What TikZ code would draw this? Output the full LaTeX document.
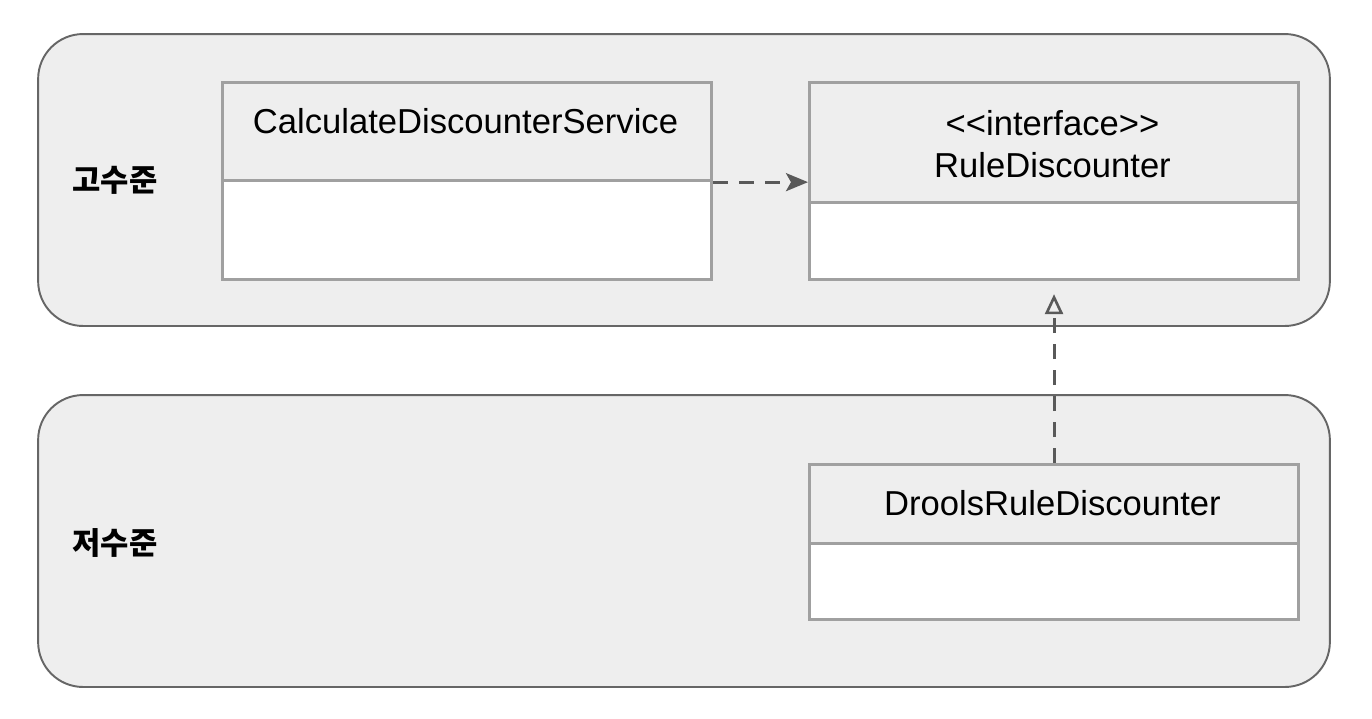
\documentclass[tikz,border=0pt]{standalone}
\usepackage{fontspec}
\setmainfont{Liberation Sans}
\newfontfamily\kofont{Noto Sans CJK KR}
\usetikzlibrary{arrows.meta}
\definecolor{panel}{HTML}{EEEEEE}
\definecolor{layerline}{HTML}{666666}
\definecolor{boxline}{HTML}{A0A0A0}
\definecolor{arrowline}{HTML}{595959}
\tikzset{
  layer/.style     = {shape=rectangle, rounded corners=0.9cm,
                      draw=layerline, fill=panel, line width=1.1pt,
                      minimum width=25.84cm, minimum height=5.84cm},
  level/.style     = {font=\kofont\bfseries\fontsize{17.5}{20}\selectfont},
  classhead/.style = {shape=rectangle, draw=boxline, fill=panel,
                      line width=1.8pt, minimum width=9.78cm,
                      anchor=north west, inner sep=0pt},
  classbody/.style = {classhead, fill=white},
  classname/.style = {font=\fontsize{19.7}{23.8}\selectfont, align=center},
  depends/.style   = {draw=arrowline, line width=1.7pt,
                      dash pattern=on 0.3cm off 0.22cm,
                      -{Stealth[length=0.44cm, width=0.36cm, inset=0.1cm]}},
  realizes/.style  = {draw=arrowline, line width=1.7pt,
                      dash pattern=on 0.3cm off 0.22cm,
                      -{Triangle[open, length=0.4cm, width=0.36cm, line width=1.5pt]}}
}

\begin{document}
\begin{tikzpicture}[x=0.02cm, y=-0.02cm]
  \useasboundingbox (0,0) rectangle (1372,718);

  % layers
  \node[layer] (highlayer) at (684,180) {};
  \node[layer] (lowlayer)  at (684,541) {};
  \node[level] (highname)  at (115,180) {고수준};
  \node[level] (lowname)   at (115,543) {저수준};

  % classes
  \node[classhead, minimum height=1.96cm] (calchead)   at (221,81)  {};
  \node[classbody, minimum height=1.98cm] (calcbody)   at (221,179) {};
  \node[classhead, minimum height=2.4cm]  (rulehead)   at (808,81)  {};
  \node[classbody, minimum height=1.54cm] (rulebody)   at (808,201) {};
  \node[classhead, minimum height=1.58cm] (droolshead) at (808,463) {};
  \node[classbody, minimum height=1.52cm] (droolsbody) at (808,542) {};

  \node[classname] (calcname)   at (465.5,121) {CalculateDiscounterService};
  \node[classname] (rulename)   at (1052.5,144) {{<}{<}interface{>}{>}\\RuleDiscounter};
  \node[classname] (droolsname) at (1052.5,503) {DroolsRuleDiscounter};

  \draw[depends] (calchead.south east) -- (calchead.south east -| rulehead.west);
  \draw[realizes, shorten >=0.26cm] (droolshead.north) -- (rulebody.south);
\end{tikzpicture}
\end{document}
